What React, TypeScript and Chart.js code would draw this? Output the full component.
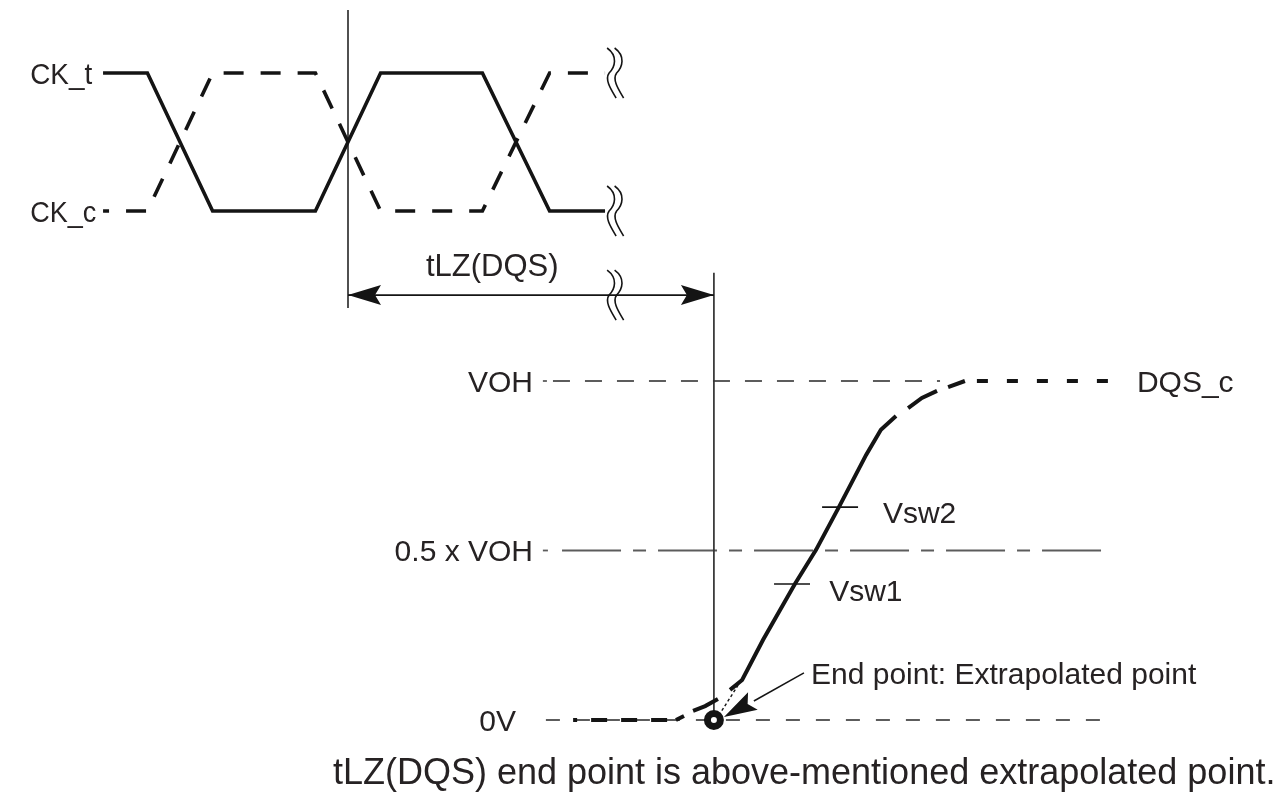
import React, { useEffect, useRef } from 'react';
import { Chart, registerables } from 'chart.js';

Chart.register(...registerables);

// ---- data (time in clock periods tCK, 0 = first CK_t / CK_c crossing) ----
const ckTimes = [-0.229, -0.097, 0.097, 0.403, 0.597, 0.9, 1.1, 1.265];
const ckTLevels = [1, 1, 0, 0, 1, 1, 0, 0];
const ckCLevels = [0, 0, 1, 1, 0, 0, 1, 1];

// DQS_c output, as a fraction of VOH (null = gap in the drawn trace)
const dqsTimes = [1.17, 1.476, 1.5, 1.51, 1.527, 1.563, 1.601, 1.62, 1.637, 1.673, 1.735, 1.83, 1.893, 1.961, 2.042, 2.086, 2.131, 2.15, 2.167, 2.208, 2.253, 2.27, 2.286, 2.336, 2.777];
const dqsLevels = [0, 0, 0.012, null, 0.027, 0.041, 0.062, null, 0.089, 0.118, 0.236, 0.401, 0.502, 0.628, 0.782, 0.856, 0.897, null, 0.92, 0.95, 0.971, null, 0.982, 1, 1];

// extrapolation of the linear part of the edge down to 0V
const extrapTimes = [1.595, 1.661];
const extrapLevels = [0, 0.103];

// reference levels
const refNames = ['VOH', '0.5 x VOH', '0V'];
const refLevels = [1, 0.5, 0];
const refDotStart = [1.08, 1.08, null];
const refDotEnd = [1.092, 1.095, null];
const refStart = [1.11, 1.137, 1.089];
const refEnd = [2.262, 2.744, 2.738];

// switching-level measurement points
const vswNames = ['Vsw1', 'Vsw2'];
const vswLevels = [0.401, 0.628];
const vswStart = [1.768, 1.911];
const vswEnd = [1.875, 2.018];

// tLZ(DQS) timing
const tlzStart = 0.5;
const tlzEnd = 1.589;
const tlzArrowLevel = -0.609;
const breakTime = 1.295;
const markerTop = 1.457;
const markerBottom = -0.703;
const endMarkerTop = 1.319;
const leaderTimes = [1.708, 1.857];
const leaderLevels = [0.056, 0.139];
const leaderTip = [1.619, 0.009];

// ---- layout / styles ----
const W = 1284;
const H = 795;
const INK = '#141414';
const TEXT = '#262223';
const GRAY = '#5c5c5c';
const FONT = '"Liberation Sans", Arial, sans-serif';

const labels = [
  { text: 'CK_t', t: -0.446, axis: 'yClk', v: 1, align: 'left', size: 30, sx: 0.93 },
  { text: 'CK_c', t: -0.446, axis: 'yClk', v: 0, align: 'left', size: 30, sx: 0.9 },
  { text: 'tLZ(DQS)', t: 0.732, axis: 'yClk', v: -0.388, align: 'left', size: 31, sx: 1 },
  { text: refNames[0], t: 1.0506, axis: 'yV', v: refLevels[0], align: 'right', size: 30, sx: 1 },
  { text: refNames[1], t: 1.0506, axis: 'yV', v: refLevels[1], align: 'right', size: 30, sx: 1 },
  { text: refNames[2], t: 1.0, axis: 'yV', v: refLevels[2], align: 'right', size: 30, sx: 1 },
  { text: 'DQS_c', t: 2.848, axis: 'yV', v: 1, align: 'left', size: 30, sx: 1 },
  { text: vswNames[0], t: 1.932, axis: 'yV', v: 0.382, align: 'left', size: 30, sx: 1 },
  { text: vswNames[1], t: 2.092, axis: 'yV', v: 0.612, align: 'left', size: 30, sx: 1 },
  { text: 'End point: Extrapolated point', t: 1.878, axis: 'yV', v: 0.137, align: 'left', size: 30, sx: 1 },
  { text: 'tLZ(DQS) end point is above-mentioned extrapolated point.', t: 0.455, axis: 'yV', v: -0.152, align: 'left', size: 36, sx: 1 },
];

const pts = (ts: number[], vs: (number | null)[]) => ts.map((t, i) => ({ x: t, y: vs[i] }));

const refDashes = [[17, 15], [59, 12, 13, 12], [14, 16]];

function refData(i: number) {
  const d: any[] = [];
  if (refDotStart[i] !== null) {
    d.push({ x: refDotStart[i], y: refLevels[i] });
    d.push({ x: refDotEnd[i], y: refLevels[i] });
    d.push({ x: ((refDotEnd[i] as number) + refStart[i]) / 2, y: null });
  }
  d.push({ x: refStart[i], y: refLevels[i] });
  d.push({ x: refEnd[i], y: refLevels[i] });
  return d;
}

const annotPlugin = {
  id: 'annot',
  afterDatasetsDraw(chart: any) {
    const { ctx, scales } = chart;
    const X = scales.x;
    const YC = scales.yClk;
    const YV = scales.yV;
    ctx.save();

    const arrow = (tx: number, ty: number, fx: number, fy: number) => {
      const dx = tx - fx, dy = ty - fy;
      const len = Math.hypot(dx, dy) || 1;
      const ux = dx / len, uy = dy / len;
      const L = 33, hw = 10;
      const bx = tx - ux * L, by = ty - uy * L;
      ctx.beginPath();
      ctx.moveTo(tx, ty);
      ctx.lineTo(bx - uy * hw, by + ux * hw);
      ctx.lineTo(bx + ux * 6, by + uy * 6);
      ctx.lineTo(bx + uy * hw, by - ux * hw);
      ctx.closePath();
      ctx.fillStyle = INK;
      ctx.fill();
    };

    // tLZ arrowheads
    const ay = YC.getPixelForValue(tlzArrowLevel);
    const ax0 = X.getPixelForValue(tlzStart);
    const ax1 = X.getPixelForValue(tlzEnd);
    arrow(ax0, ay, ax1, ay);
    arrow(ax1, ay, ax0, ay);
    // leader arrowhead
    arrow(
      X.getPixelForValue(leaderTip[0]), YV.getPixelForValue(leaderTip[1]),
      X.getPixelForValue(leaderTimes[1]), YV.getPixelForValue(leaderLevels[1])
    );

    // break marks
    const bx = X.getPixelForValue(breakTime);
    ctx.strokeStyle = INK;
    ctx.lineWidth = 1.6;
    const brk = (cx: number, cy: number) => {
      for (const off of [-4, 3.5]) {
        const x0 = cx + off;
        ctx.beginPath();
        ctx.moveTo(x0 - 4, cy - 25);
        ctx.bezierCurveTo(x0 + 7, cy - 17, x0 + 4, cy - 6, x0 - 2, cy);
        ctx.bezierCurveTo(x0 - 7, cy + 7, x0 + 1, cy + 18, x0 + 5, cy + 25);
        ctx.stroke();
      }
    };
    brk(bx, YC.getPixelForValue(1));
    brk(bx, YC.getPixelForValue(0));
    brk(bx, ay);

    // labels
    ctx.fillStyle = TEXT;
    ctx.textBaseline = 'alphabetic';
    for (const lb of labels) {
      const ys = lb.axis === 'yClk' ? YC : YV;
      const px = X.getPixelForValue(lb.t);
      const py = ys.getPixelForValue(lb.v) + 0.716 * lb.size / 2;
      ctx.save();
      ctx.font = `${lb.size}px ${FONT}`;
      ctx.textAlign = lb.align;
      ctx.translate(px, py);
      ctx.scale(lb.sx, 1);
      ctx.fillText(lb.text, 0, 0);
      ctx.restore();
    }
    ctx.restore();
  },
};

export default function App() {
  const ref = useRef<HTMLCanvasElement>(null);
  useEffect(() => {
    const line = (extra: any) => ({
      showLine: true,
      pointRadius: 0,
      pointHoverRadius: 0,
      tension: 0,
      borderCapStyle: 'butt',
      borderJoinStyle: 'miter',
      ...extra,
    });
    const datasets: any[] = [
      {
        label: 'End point',
        data: [{ x: tlzEnd, y: 0 }],
        yAxisID: 'yV',
        showLine: false,
        pointRadius: 6.5,
        pointBorderWidth: 7,
        pointBackgroundColor: '#ffffff',
        pointBorderColor: INK,
      },
      line({
        label: 'DQS_c',
        data: pts(dqsTimes, dqsLevels),
        yAxisID: 'yV',
        borderColor: INK,
        borderWidth: 4,
        segment: {
          borderDash: (c: any) => (c.p0DataIndex === 0 ? [16, 14] : c.p0DataIndex === 23 ? [11, 19] : []),
          borderDashOffset: (c: any) => (c.p0DataIndex === 0 ? 12 : c.p0DataIndex === 23 ? 18 : 0),
        },
      }),
      line({
        label: 'extrapolation',
        data: pts(extrapTimes, extrapLevels),
        yAxisID: 'yV',
        borderColor: INK,
        borderWidth: 1.4,
        borderDash: [3, 2.5],
      }),
      line({
        label: 'Vsw',
        data: [
          { x: vswStart[0], y: vswLevels[0] },
          { x: vswEnd[0], y: vswLevels[0] },
          { x: (vswEnd[0] + vswStart[1]) / 2, y: null },
          { x: vswStart[1], y: vswLevels[1] },
          { x: vswEnd[1], y: vswLevels[1] },
        ],
        yAxisID: 'yV',
        borderColor: INK,
        borderWidth: 1.6,
      }),
      line({
        label: 'leader',
        data: pts(leaderTimes, leaderLevels),
        yAxisID: 'yV',
        borderColor: INK,
        borderWidth: 1.5,
      }),
      line({
        label: 'CK_t',
        data: pts(ckTimes, ckTLevels),
        yAxisID: 'yClk',
        borderColor: INK,
        borderWidth: 3.6,
      }),
      line({
        label: 'CK_c',
        data: pts(ckTimes, ckCLevels),
        yAxisID: 'yClk',
        borderColor: INK,
        borderWidth: 3.6,
        borderDash: [20, 17],
        borderDashOffset: 14,
      }),
      line({
        label: 'tLZ arrow',
        data: [{ x: tlzStart, y: tlzArrowLevel }, { x: tlzEnd, y: tlzArrowLevel }],
        yAxisID: 'yClk',
        borderColor: INK,
        borderWidth: 1.7,
      }),
      line({
        label: 'CK crossing',
        data: [{ x: tlzStart, y: markerTop }, { x: tlzStart, y: markerBottom }],
        yAxisID: 'yClk',
        borderColor: '#333333',
        borderWidth: 1.7,
      }),
      line({
        label: 'tLZ end',
        data: [{ x: tlzEnd, y: endMarkerTop }, { x: tlzEnd, y: 0 }],
        yAxisID: 'yV',
        borderColor: '#333333',
        borderWidth: 1.7,
      }),
    ];
    refLevels.forEach((_, i) => {
      const dotted = refDotStart[i] !== null;
      datasets.push(
        line({
          label: refNames[i],
          data: refData(i),
          yAxisID: 'yV',
          borderColor: GRAY,
          borderWidth: 1.8,
          segment: {
            borderDash: (c: any) => (dotted && c.p0DataIndex < 2 ? [] : refDashes[i]),
          },
        })
      );
    });

    const chart = new Chart(ref.current as HTMLCanvasElement, {
      type: 'scatter',
      data: { datasets },
      options: {
        animation: false,
        responsive: false,
        devicePixelRatio: 1,
        events: [],
        layout: { padding: 0, autoPadding: false },
        plugins: { legend: { display: false }, tooltip: { enabled: false } },
        scales: {
          x: { type: 'linear', display: false, min: -180 / 336, max: (W - 180) / 336 },
          y: { type: 'linear', display: false },
          yClk: { type: 'linear', axis: 'y', display: false, min: -(H - 211) / 138, max: 1 + 73 / 138 },
          yV: { type: 'linear', axis: 'y', display: false, min: -(H - 720) / 339, max: 1 + 381 / 339 },
        },
      } as any,
      plugins: [annotPlugin as any],
    });
    return () => chart.destroy();
  }, []);

  return (
    <div style={{ position: 'fixed', left: 0, top: 0, width: W, height: H, background: '#ffffff' }}>
      <canvas ref={ref} width={W} height={H} style={{ display: 'block' }} />
    </div>
  );
}
